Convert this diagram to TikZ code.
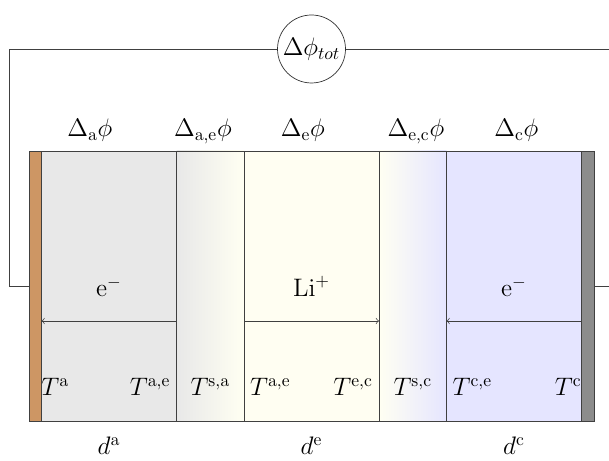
\documentclass[tikz,border=0pt]{standalone}
\usepackage{xcolor}
\definecolor{cellcu}{RGB}{205,150,100}
\definecolor{cellal}{RGB}{140,140,140}
\tikzset{
  layer/.style={draw=black!75, minimum height=5.4cm, inner sep=0pt, outer sep=0pt, anchor=south west},
  meter/.style={draw=black!80, circle, minimum size=1.36cm, inner sep=0.5pt, fill=white},
  wire/.style={draw=black!75},
  plbl/.style={anchor=base},
  dlbl/.style={anchor=base west, inner sep=0pt},
  flow/.style={->, black!75},
  tw/.style={anchor=base west},
  te/.style={anchor=base east},
  tc/.style={anchor=base}
}

\begin{document}
\begin{tikzpicture}[x=1cm, y=1cm, every node/.append style={font=\Large}]
    \useasboundingbox (-0.58,-0.8) rectangle (11.6,8.42);
    % cell layers
    \node[layer, fill=cellcu, minimum width=0.25cm] (cu) at (0,0) {};
    \node[layer, fill=gray!18, minimum width=2.7cm] (an) at (cu.south east) {};
    \node[layer, left color=gray!18, right color=yellow!5, minimum width=1.35cm] (sa) at (an.south east) {};
    \node[layer, fill=yellow!5, minimum width=2.7cm] (el) at (sa.south east) {};
    \node[layer, left color=yellow!5, right color=blue!10, minimum width=1.35cm] (sc) at (el.south east) {};
    \node[layer, fill=blue!10, minimum width=2.7cm] (ca) at (sc.south east) {};
    \node[layer, fill=cellal, minimum width=0.25cm] (al) at (ca.south east) {};
    % external circuit
    \node[meter] (dphi) at (5.65,7.44) {$\Delta\phi_{tot}$};
    \coordinate (wl) at (-0.4,7.44);
    \coordinate (wr) at (11.7,7.44);
    \draw[wire] (cu.west) -| (wl) -- (dphi.west);
    \draw[wire] (dphi.east) -- (wr) |- (al.east);
    % potential drops
    \foreach \lbl [count=\i] in {a, {a,e}, e, {e,c}, c}
      \node[dlbl] (p\i) at ({0.76+(\i-1)*2.135},5.68) {$\Delta_{\mathrm{\lbl}}\phi$};
    % charge carriers
    \foreach \nd in {an,el,ca} {
      \coordinate (\nd w) at (\nd.west |- 0,2);
      \coordinate (\nd e) at (\nd.east |- 0,2);
    }
    \draw[flow] (ane) -- (anw);
    \draw[flow] (elw) -- (ele);
    \draw[flow] (cae) -- (caw);
    \node[plbl] (qan) at (an.center |- 0,2.48) {$\mathrm{e}^-$};
    \node[plbl] (qel) at (el.center |- 0,2.48) {$\mathrm{Li}^+$};
    \node[plbl] (qca) at (ca.center |- 0,2.48) {$\mathrm{e}^-$};
    % temperatures
    \node[tw] (ta) at (cu.center |- 0,0.5) {$T^{\mathrm{a}}$};
    \node[te] (tae) at (an.east |- 0,0.5) {$T^{\mathrm{a,e}}$};
    \node[tc] (tsa) at (sa.center |- 0,0.5) {$T^{\mathrm{s,a}}$};
    \node[tw] (tea) at (el.west |- 0,0.5) {$T^{\mathrm{a,e}}$};
    \node[te] (tec) at (el.east |- 0,0.5) {$T^{\mathrm{e,c}}$};
    \node[tc] (tsc) at (sc.center |- 0,0.5) {$T^{\mathrm{s,c}}$};
    \node[tw] (tce) at (ca.west |- 0,0.5) {$T^{\mathrm{c,e}}$};
    \node[te] (tc) at (al.center |- 0,0.5) {$T^{\mathrm{c}}$};
    % thicknesses
    \foreach \nd/\lbl in {an/a, el/e, ca/c}
      \node[plbl, inner sep=0pt] (d\nd) at (\nd.center |- 0,-0.68) {$d^{\mathrm{\lbl}}$};
\end{tikzpicture}
\end{document}
